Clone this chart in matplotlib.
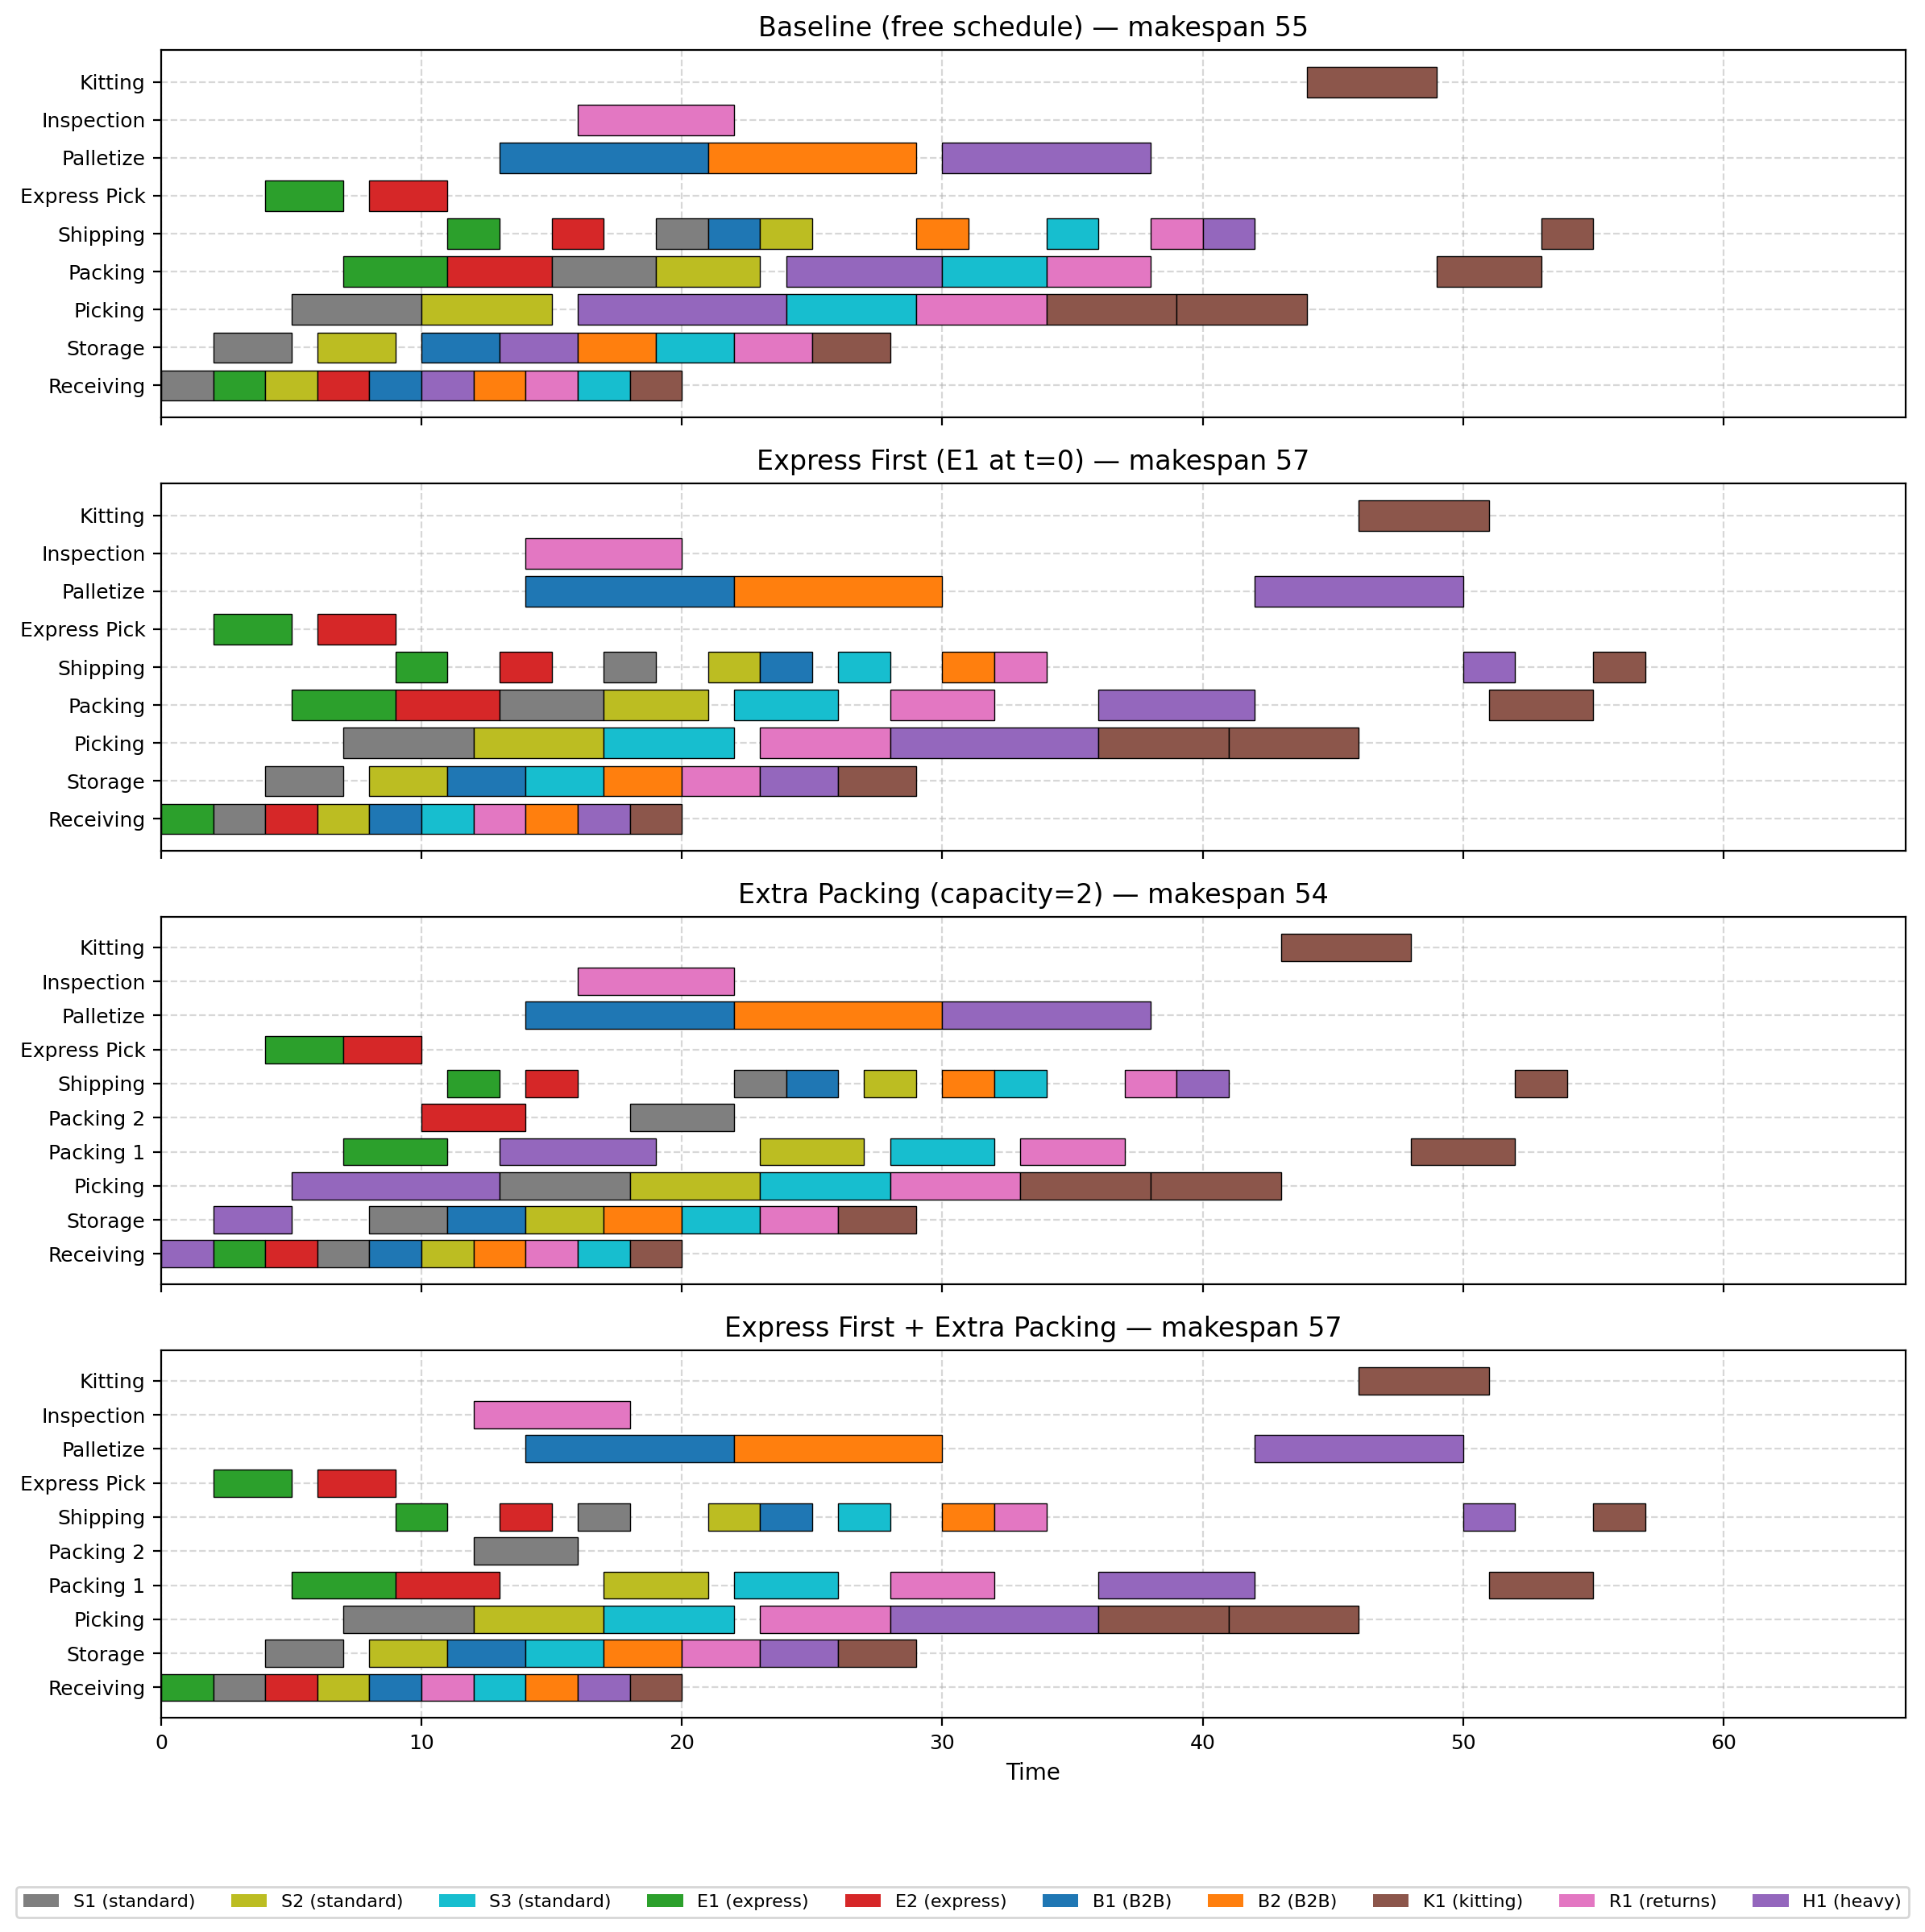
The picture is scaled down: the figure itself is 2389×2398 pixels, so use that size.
import matplotlib.pyplot as plt
from matplotlib.patches import Patch

jobs = ["S1", "S2", "S3", "E1", "E2", "B1", "B2", "K1", "R1", "H1"]
job_labels = ["S1 (standard)", "S2 (standard)", "S3 (standard)", "E1 (express)", "E2 (express)",
              "B1 (B2B)", "B2 (B2B)", "K1 (kitting)", "R1 (returns)", "H1 (heavy)"]
job_colors = ["tab:gray", "tab:olive", "tab:cyan", "tab:green", "tab:red",
              "tab:blue", "tab:orange", "tab:brown", "tab:pink", "tab:purple"]

resources_single = ["Receiving", "Storage", "Picking", "Packing", "Shipping",
                    "Express Pick", "Palletize", "Inspection", "Kitting"]
resources_double = ["Receiving", "Storage", "Picking", "Packing 1", "Packing 2", "Shipping",
                    "Express Pick", "Palletize", "Inspection", "Kitting"]

# (job, resource, start, end)
baseline_ops = [
    ("S1", "Receiving", 0, 2), ("E1", "Receiving", 2, 4), ("S2", "Receiving", 4, 6),
    ("E2", "Receiving", 6, 8), ("B1", "Receiving", 8, 10), ("H1", "Receiving", 10, 12),
    ("B2", "Receiving", 12, 14), ("R1", "Receiving", 14, 16), ("S3", "Receiving", 16, 18),
    ("K1", "Receiving", 18, 20),
    ("S1", "Storage", 2, 5), ("S2", "Storage", 6, 9), ("B1", "Storage", 10, 13),
    ("H1", "Storage", 13, 16), ("B2", "Storage", 16, 19), ("S3", "Storage", 19, 22),
    ("R1", "Storage", 22, 25), ("K1", "Storage", 25, 28),
    ("S1", "Picking", 5, 10), ("S2", "Picking", 10, 15), ("H1", "Picking", 16, 24),
    ("S3", "Picking", 24, 29), ("R1", "Picking", 29, 34), ("K1", "Picking", 34, 39),
    ("K1", "Picking", 39, 44),
    ("E1", "Packing", 7, 11), ("E2", "Packing", 11, 15), ("S1", "Packing", 15, 19),
    ("S2", "Packing", 19, 23), ("H1", "Packing", 24, 30), ("S3", "Packing", 30, 34),
    ("R1", "Packing", 34, 38), ("K1", "Packing", 49, 53),
    ("E1", "Shipping", 11, 13), ("E2", "Shipping", 15, 17), ("S1", "Shipping", 19, 21),
    ("B1", "Shipping", 21, 23), ("S2", "Shipping", 23, 25), ("B2", "Shipping", 29, 31),
    ("S3", "Shipping", 34, 36), ("R1", "Shipping", 38, 40), ("H1", "Shipping", 40, 42),
    ("K1", "Shipping", 53, 55),
    ("E1", "Express Pick", 4, 7), ("E2", "Express Pick", 8, 11),
    ("B1", "Palletize", 13, 21), ("B2", "Palletize", 21, 29), ("H1", "Palletize", 30, 38),
    ("R1", "Inspection", 16, 22),
    ("K1", "Kitting", 44, 49),
]

express_ops = [
    ("E1", "Receiving", 0, 2), ("S1", "Receiving", 2, 4), ("E2", "Receiving", 4, 6),
    ("S2", "Receiving", 6, 8), ("B1", "Receiving", 8, 10), ("S3", "Receiving", 10, 12),
    ("R1", "Receiving", 12, 14), ("B2", "Receiving", 14, 16), ("H1", "Receiving", 16, 18),
    ("K1", "Receiving", 18, 20),
    ("S1", "Storage", 4, 7), ("S2", "Storage", 8, 11), ("B1", "Storage", 11, 14),
    ("S3", "Storage", 14, 17), ("B2", "Storage", 17, 20), ("R1", "Storage", 20, 23),
    ("H1", "Storage", 23, 26), ("K1", "Storage", 26, 29),
    ("S1", "Picking", 7, 12), ("S2", "Picking", 12, 17), ("S3", "Picking", 17, 22),
    ("R1", "Picking", 23, 28), ("H1", "Picking", 28, 36), ("K1", "Picking", 36, 41),
    ("K1", "Picking", 41, 46),
    ("E1", "Packing", 5, 9), ("E2", "Packing", 9, 13), ("S1", "Packing", 13, 17),
    ("S2", "Packing", 17, 21), ("S3", "Packing", 22, 26), ("R1", "Packing", 28, 32),
    ("H1", "Packing", 36, 42), ("K1", "Packing", 51, 55),
    ("E1", "Shipping", 9, 11), ("E2", "Shipping", 13, 15), ("S1", "Shipping", 17, 19),
    ("S2", "Shipping", 21, 23), ("B1", "Shipping", 23, 25), ("S3", "Shipping", 26, 28),
    ("B2", "Shipping", 30, 32), ("R1", "Shipping", 32, 34), ("H1", "Shipping", 50, 52),
    ("K1", "Shipping", 55, 57),
    ("E1", "Express Pick", 2, 5), ("E2", "Express Pick", 6, 9),
    ("B1", "Palletize", 14, 22), ("B2", "Palletize", 22, 30), ("H1", "Palletize", 42, 50),
    ("R1", "Inspection", 14, 20),
    ("K1", "Kitting", 46, 51),
]

extra_ops = [
    ("H1", "Receiving", 0, 2), ("E1", "Receiving", 2, 4), ("E2", "Receiving", 4, 6),
    ("S1", "Receiving", 6, 8), ("B1", "Receiving", 8, 10), ("S2", "Receiving", 10, 12),
    ("B2", "Receiving", 12, 14), ("R1", "Receiving", 14, 16), ("S3", "Receiving", 16, 18),
    ("K1", "Receiving", 18, 20),
    ("H1", "Storage", 2, 5), ("S1", "Storage", 8, 11), ("B1", "Storage", 11, 14),
    ("S2", "Storage", 14, 17), ("B2", "Storage", 17, 20), ("S3", "Storage", 20, 23),
    ("R1", "Storage", 23, 26), ("K1", "Storage", 26, 29),
    ("H1", "Picking", 5, 13), ("S1", "Picking", 13, 18), ("S2", "Picking", 18, 23),
    ("S3", "Picking", 23, 28), ("R1", "Picking", 28, 33), ("K1", "Picking", 33, 38),
    ("K1", "Picking", 38, 43),
    ("E1", "Packing 1", 7, 11), ("H1", "Packing 1", 13, 19), ("S2", "Packing 1", 23, 27),
    ("S3", "Packing 1", 28, 32), ("R1", "Packing 1", 33, 37), ("K1", "Packing 1", 48, 52),
    ("E2", "Packing 2", 10, 14), ("S1", "Packing 2", 18, 22),
    ("E1", "Shipping", 11, 13), ("E2", "Shipping", 14, 16), ("S1", "Shipping", 22, 24),
    ("B1", "Shipping", 24, 26), ("S2", "Shipping", 27, 29), ("B2", "Shipping", 30, 32),
    ("S3", "Shipping", 32, 34), ("R1", "Shipping", 37, 39), ("H1", "Shipping", 39, 41),
    ("K1", "Shipping", 52, 54),
    ("E1", "Express Pick", 4, 7), ("E2", "Express Pick", 7, 10),
    ("B1", "Palletize", 14, 22), ("B2", "Palletize", 22, 30), ("H1", "Palletize", 30, 38),
    ("R1", "Inspection", 16, 22),
    ("K1", "Kitting", 43, 48),
]

both_ops = [
    ("E1", "Receiving", 0, 2), ("S1", "Receiving", 2, 4), ("E2", "Receiving", 4, 6),
    ("S2", "Receiving", 6, 8), ("B1", "Receiving", 8, 10), ("R1", "Receiving", 10, 12),
    ("S3", "Receiving", 12, 14), ("B2", "Receiving", 14, 16), ("H1", "Receiving", 16, 18),
    ("K1", "Receiving", 18, 20),
    ("S1", "Storage", 4, 7), ("S2", "Storage", 8, 11), ("B1", "Storage", 11, 14),
    ("S3", "Storage", 14, 17), ("B2", "Storage", 17, 20), ("R1", "Storage", 20, 23),
    ("H1", "Storage", 23, 26), ("K1", "Storage", 26, 29),
    ("S1", "Picking", 7, 12), ("S2", "Picking", 12, 17), ("S3", "Picking", 17, 22),
    ("R1", "Picking", 23, 28), ("H1", "Picking", 28, 36), ("K1", "Picking", 36, 41),
    ("K1", "Picking", 41, 46),
    ("E1", "Packing 1", 5, 9), ("E2", "Packing 1", 9, 13), ("S2", "Packing 1", 17, 21),
    ("S3", "Packing 1", 22, 26), ("R1", "Packing 1", 28, 32), ("H1", "Packing 1", 36, 42),
    ("K1", "Packing 1", 51, 55),
    ("S1", "Packing 2", 12, 16),
    ("E1", "Shipping", 9, 11), ("E2", "Shipping", 13, 15), ("S1", "Shipping", 16, 18),
    ("S2", "Shipping", 21, 23), ("B1", "Shipping", 23, 25), ("S3", "Shipping", 26, 28),
    ("B2", "Shipping", 30, 32), ("R1", "Shipping", 32, 34), ("H1", "Shipping", 50, 52),
    ("K1", "Shipping", 55, 57),
    ("E1", "Express Pick", 2, 5), ("E2", "Express Pick", 6, 9),
    ("B1", "Palletize", 14, 22), ("B2", "Palletize", 22, 30), ("H1", "Palletize", 42, 50),
    ("R1", "Inspection", 12, 18),
    ("K1", "Kitting", 46, 51),
]

titles = ["Baseline (free schedule) \u2014 makespan 55",
          "Express First (E1 at t=0) \u2014 makespan 57",
          "Extra Packing (capacity=2) \u2014 makespan 54",
          "Express First + Extra Packing \u2014 makespan 57"]
scenarios = [(baseline_ops, resources_single), (express_ops, resources_single),
             (extra_ops, resources_double), (both_ops, resources_double)]

color_of = dict(zip(jobs, job_colors))

fig, axes = plt.subplots(4, 1, figsize=(2389 / 200, 2398 / 200), dpi=200, sharex=True)
fig.subplots_adjust(left=0.0837, right=0.99, top=0.9741, bottom=0.1109, hspace=0.18)

for ax, (ops, resources), title in zip(axes, scenarios, titles):
    for job, res, start, end in ops:
        ax.barh(resources.index(res), end - start, left=start, height=0.8,
                color=color_of[job], edgecolor="black", linewidth=0.5)
    ax.set_yticks(range(len(resources)))
    ax.set_yticklabels(resources)
    ax.tick_params(labelsize=9)
    ax.set_xlim(0, 67)
    ax.grid(True, linestyle="--", alpha=0.5)
    ax.set_axisbelow(True)
    ax.set_title(title)

axes[-1].set_xlabel("Time")

handles = [Patch(facecolor=c, label=l) for c, l in zip(job_colors, job_labels)]
fig.legend(handles=handles, loc="lower center", ncol=10, fontsize=8,
           bbox_to_anchor=(0.5, 0.003))

plt.savefig("out.png", dpi=200)
